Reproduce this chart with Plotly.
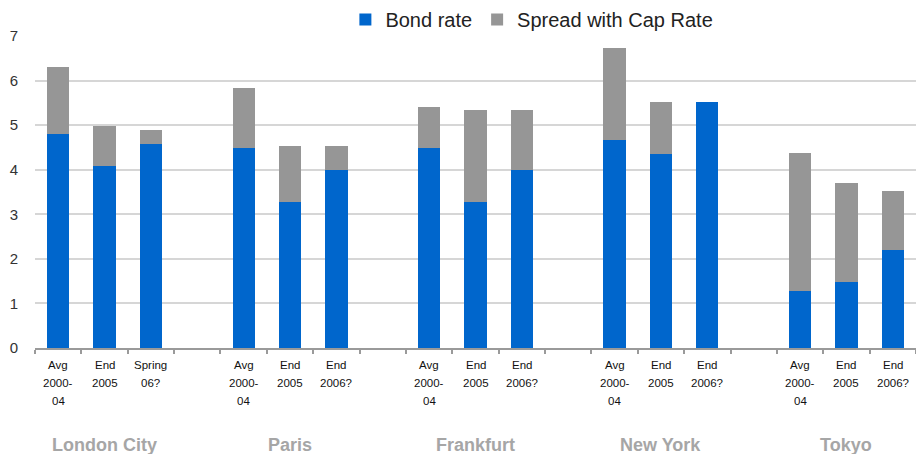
import plotly.graph_objects as go

cities = ["London City", "Paris", "Frankfurt", "New York", "Tokyo"]
period_labels = [
    [["Avg", "2000-", "04"], ["End", "2005"], ["Spring", "06?"]],
    [["Avg", "2000-", "04"], ["End", "2005"], ["End", "2006?"]],
    [["Avg", "2000-", "04"], ["End", "2005"], ["End", "2006?"]],
    [["Avg", "2000-", "04"], ["End", "2005"], ["End", "2006?"]],
    [["Avg", "2000-", "04"], ["End", "2005"], ["End", "2006?"]],
]
bond_rate = [
    [4.80, 4.08, 4.58],
    [4.48, 3.27, 3.99],
    [4.48, 3.27, 3.99],
    [4.67, 4.35, 5.51],
    [1.28, 1.47, 2.19],
]
total_cap_rate = [
    [6.31, 4.98, 4.88],
    [5.83, 4.53, 4.53],
    [5.41, 5.33, 5.33],
    [6.72, 5.51, 5.51],
    [4.38, 3.71, 3.52],
]

slots_per_group = 4
xs, bond, spread, labels = [], [], [], []
for g in range(len(cities)):
    for i in range(3):
        xs.append(g * slots_per_group + i)
        bond.append(bond_rate[g][i])
        spread.append(round(total_cap_rate[g][i] - bond_rate[g][i], 3))
        labels.append(period_labels[g][i])

n_slots = len(cities) * slots_per_group - 1
FONT = "Liberation Sans, Arial, sans-serif"

fig = go.Figure()
fig.add_trace(go.Bar(x=xs, y=bond, name="Bond rate", marker_color="#0066cc",
                     marker_line_width=0))
fig.add_trace(go.Bar(x=xs, y=spread, name="Spread with Cap Rate", marker_color="#969696",
                     marker_line_width=0))

# category (period) labels, one line per annotation for wider line spacing
for x, lines in zip(xs, labels):
    for j, line in enumerate(lines):
        fig.add_annotation(x=x, y=0, xref="x", yref="paper", yanchor="middle",
                           yshift=-(17 + 18 * j), text=line, showarrow=False,
                           font=dict(family=FONT, size=11.5, color="#111"))

for g, c in enumerate(cities):
    fig.add_annotation(x=g * slots_per_group + 1, y=0, xref="x", yref="paper",
                       yanchor="middle", yshift=-97,
                       text="<b>" + c + "</b>", showarrow=False,
                       font=dict(family=FONT, size=18, color="#a6a6a6"))

fig.update_layout(
    barmode="stack",
    bargap=0.52,
    width=916, height=454,
    margin=dict(l=35, r=0, t=36, b=106, autoexpand=False),
    plot_bgcolor="white", paper_bgcolor="white",
    font=dict(family=FONT, color="#222"),
    legend=dict(orientation="h", x=0.564, xanchor="center",
                yref="container", y=1.0, yanchor="top",
                font=dict(size=20, color="#222"), traceorder="normal",
                itemwidth=30, bgcolor="rgba(0,0,0,0)"),
    showlegend=True,
)
fig.update_xaxes(
    range=[-0.5, n_slots - 0.5],
    tickmode="array", tickvals=xs, showticklabels=False,
    ticks="", showgrid=False, zeroline=False,
    showline=True, linecolor="#9a9a9a", linewidth=1.5,
    minor=dict(ticks="outside", tick0=-0.5, dtick=1, ticklen=4, tickcolor="#9a9a9a",
               tickwidth=1.5, showgrid=False),
)
fig.update_yaxes(
    range=[0, 7], dtick=1, showgrid=True, gridcolor="#d6d6d6", gridwidth=1.5,
    zeroline=False, showline=False, ticks="",
    tickfont=dict(size=15, color="#333"), ticklabelstandoff=16,
)

fig.write_html("out.html", config={"displayModeBar": False},
               post_script="document.body.style.margin='0';")
